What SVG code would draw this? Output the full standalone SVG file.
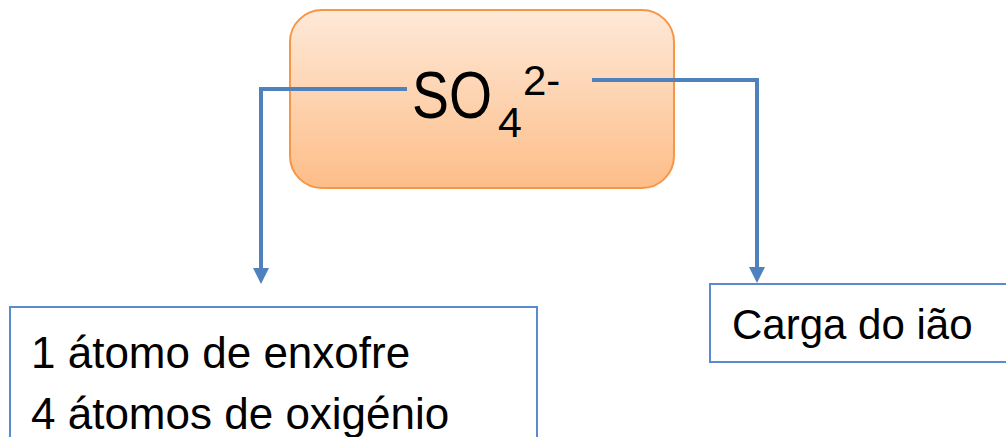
<svg xmlns="http://www.w3.org/2000/svg" width="1006" height="437" viewBox="0 0 1006 437">
<style>
.t{font-family:"Liberation Sans",Arial,sans-serif;fill:#000}
.box{fill:#fff;stroke:#5B8BCF;stroke-width:2}
.conn{fill:none;stroke:#4F81BD;stroke-width:4}
</style>
<defs>
<linearGradient id="g" x1="0" y1="0" x2="0" y2="1">
<stop offset="0" stop-color="#FEE9D8"/>
<stop offset="1" stop-color="#FDBD88"/>
</linearGradient>
<marker id="arr" markerUnits="userSpaceOnUse" markerWidth="16" markerHeight="16" viewBox="0 0 16 16" refX="4" refY="8" orient="auto">
<polygon points="0,0 16,8 0,16" fill="#4F81BD"/>
</marker>
</defs>
<rect width="1006" height="437" fill="#fff"/>
<g id="ion">
<rect x="290" y="10" width="384" height="178" rx="32" fill="url(#g)" stroke="#F79646" stroke-width="2"/>
<text class="t" transform="translate(412,118) scale(0.84,1)" font-size="66">SO</text>
<text class="t" x="498" y="137" font-size="43">4</text>
<text class="t" x="523" y="95" font-size="42">2-</text>
</g>
<g id="connectors">
<path class="conn" d="M407,89 H261 V272" marker-end="url(#arr)"/>
<path class="conn" d="M592,80 H757 V271" marker-end="url(#arr)"/>
</g>
<g id="atoms">
<rect class="box" x="10" y="307" width="527" height="140"/>
<text class="t" x="31" y="368" font-size="44">1 átomo de enxofre</text>
<text class="t" x="31" y="429" font-size="44">4 átomos de oxigénio</text>
</g>
<g id="charge">
<rect class="box" x="710" y="284" width="310" height="78"/>
<text class="t" x="732" y="339" font-size="42">Carga do ião</text>
</g>
</svg>
